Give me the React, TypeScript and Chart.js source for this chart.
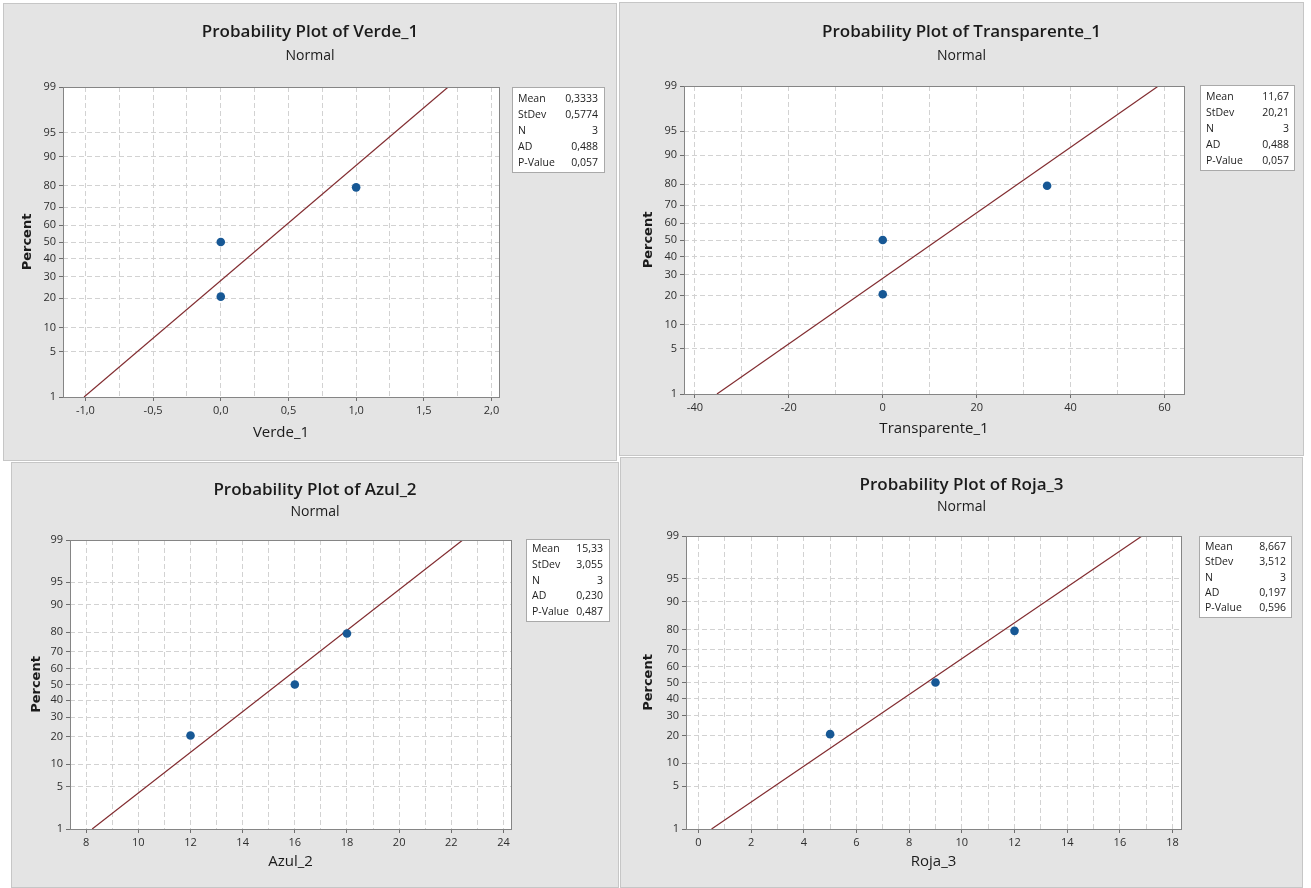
import React, { useEffect, useRef } from 'react';
import { Chart, registerables } from 'chart.js';

Chart.register(...registerables);

// ---------------- data ----------------
const plotTitles = [
  'Probability Plot of Verde_1',
  'Probability Plot of Transparente_1',
  'Probability Plot of Azul_2',
  'Probability Plot of Roja_3',
];
const subTitle = 'Normal';
const xAxisTitles = ['Verde_1', 'Transparente_1', 'Azul_2', 'Roja_3'];
const yAxisTitle = 'Percent';

const verdeValues = [0, 0, 1];
const transparenteValues = [0, 0, 35];
const azulValues = [12, 16, 18];
const rojaValues = [5, 9, 12];
const seriesValues = [verdeValues, transparenteValues, azulValues, rojaValues];

// plotting positions (percent) of the 3 ordered observations
const plotPercents = [20.6, 50, 79.4];

// percent tick labels on the probability axis
const percentTicks = [1, 5, 10, 20, 30, 40, 50, 60, 70, 80, 90, 95, 99];

// fitted line: x where it crosses 1 % and 99 %
const fitAt1Pct = [-1.01, -35.3, 8.23, 0.5];
const fitAt99Pct = [1.68, 58.7, 22.44, 16.84];

// x axis ranges and tick steps
const xMins = [-1.1655, -42.32, 7.379, -0.471];
const xMaxs = [2.0554, 64.15, 24.29, 18.32];
const xFirstTick = [-1, -40, 8, 0];
const xLastTick = [2, 60, 24, 18];
const xMajorStep = [0.5, 20, 2, 2];
const xMinorStep = [0.25, 10, 1, 1];
const xDecimals = [1, 0, 0, 0];

// summary tables
const statLabels = ['Mean', 'StDev', 'N', 'AD', 'P-Value'];
const verdeStats = ['0,3333', '0,5774', '3', '0,488', '0,057'];
const transparenteStats = ['11,67', '20,21', '3', '0,488', '0,057'];
const azulStats = ['15,33', '3,055', '3', '0,230', '0,487'];
const rojaStats = ['8,667', '3,512', '3', '0,197', '0,596'];
const statValues = [verdeStats, transparenteStats, azulStats, rojaStats];

// ---------------- layout (page pixels) ----------------
type Geo = {
  left: number; top: number; w: number; h: number;
  plotL: number; plotR: number; plotT: number; plotB: number;
  titleY: number; subY: number; yTitleOff: number; xTitleOff: number;
  box: { l: number; t: number; r: number; b: number; rows: number[]; labelX: number; valueX: number };
};

const panels: Geo[] = [
  {
    left: 3, top: 3, w: 614, h: 458,
    plotL: 63, plotR: 499, plotT: 87, plotB: 397,
    titleY: 32, subY: 56, yTitleOff: 35, xTitleOff: 35.5,
    box: { l: 512, t: 87, r: 605, b: 173, rows: [99, 115, 131, 147, 163], labelX: 518, valueX: 598 },
  },
  {
    left: 619, top: 2, w: 685, h: 454,
    plotL: 684, plotR: 1184, plotT: 86, plotB: 394,
    titleY: 32, subY: 56, yTitleOff: 35.5, xTitleOff: 34.5,
    box: { l: 1200, t: 85, r: 1295, b: 171, rows: [97, 113, 129, 145, 161], labelX: 1206, valueX: 1289 },
  },
  {
    left: 11, top: 462, w: 608, h: 426,
    plotL: 70, plotR: 511, plotT: 540, plotB: 829,
    titleY: 490, subY: 512, yTitleOff: 33.5, xTitleOff: 33,
    box: { l: 526, t: 539, r: 610, b: 622, rows: [549, 565, 581, 596.5, 612], labelX: 532, valueX: 603 },
  },
  {
    left: 620, top: 457, w: 683, h: 431,
    plotL: 686, plotR: 1181, plotT: 536, plotB: 829,
    titleY: 485, subY: 507, yTitleOff: 37.5, xTitleOff: 33,
    box: { l: 1199, t: 536, r: 1292, b: 618, rows: [547, 562.5, 578, 593, 608], labelX: 1205, valueX: 1286 },
  },
];

const X_SCALE_H = 50;
const FONT = '"Open Sans", "Noto Sans", sans-serif';

// inverse standard normal CDF (Acklam) – maps percent to the probability axis
function normInv(p: number): number {
  const a = [-3.969683028665376e1, 2.209460984245205e2, -2.759285104469687e2, 1.38357751867269e2, -3.066479806614716e1, 2.506628277459239];
  const b = [-5.447609879822406e1, 1.615858368580409e2, -1.556989798598866e2, 6.680131188771972e1, -1.328068155288572e1];
  const c = [-7.784894002430293e-3, -3.223964580411365e-1, -2.400758277161838, -2.549732539343734, 4.374664141464968, 2.938163982698783];
  const d = [7.784695709041462e-3, 3.224671290700398e-1, 2.445134137142996, 3.754408661907416];
  const pl = 0.02425;
  if (p < pl) {
    const q = Math.sqrt(-2 * Math.log(p));
    return (((((c[0] * q + c[1]) * q + c[2]) * q + c[3]) * q + c[4]) * q + c[5]) / ((((d[0] * q + d[1]) * q + d[2]) * q + d[3]) * q + 1);
  }
  if (p > 1 - pl) {
    const q = Math.sqrt(-2 * Math.log(1 - p));
    return -(((((c[0] * q + c[1]) * q + c[2]) * q + c[3]) * q + c[4]) * q + c[5]) / ((((d[0] * q + d[1]) * q + d[2]) * q + d[3]) * q + 1);
  }
  const q = p - 0.5;
  const r = q * q;
  return ((((((a[0] * r + a[1]) * r + a[2]) * r + a[3]) * r + a[4]) * r + a[5]) * q) / (((((b[0] * r + b[1]) * r + b[2]) * r + b[3]) * r + b[4]) * r + 1);
}
const zOf = (pct: number) => normInv(pct / 100);

function ProbPlot({ idx }: { idx: number }) {
  const ref = useRef<HTMLCanvasElement | null>(null);
  const g = panels[idx];

  useEffect(() => {
    const canvas = ref.current;
    if (!canvas) return;
    const ox = g.left;
    const oy = g.top;
    const yMin = zOf(percentTicks[0]);
    const yMax = zOf(percentTicks[percentTicks.length - 1]);
    const major = xMajorStep[idx];
    const minor = xMinorStep[idx];
    const isMajor = (v: number) => Math.abs(v / major - Math.round(v / major)) < 1e-6;

    const points = seriesValues[idx].map((v, i) => ({ x: v, y: zOf(plotPercents[i]) }));
    const fitLine = [
      { x: fitAt1Pct[idx], y: zOf(1) },
      { x: fitAt99Pct[idx], y: zOf(99) },
    ];

    const lhX = 15 * 1.2;
    const lhY = 13 * 1.2;

    const decor = {
      id: 'minitabDecor',
      beforeDraw(chart: any) {
        const { ctx, chartArea: a } = chart;
        ctx.save();
        ctx.fillStyle = '#ffffff';
        ctx.fillRect(a.left, a.top, a.right - a.left, a.bottom - a.top);
        ctx.restore();
      },
      afterDraw(chart: any) {
        const { ctx, chartArea: a } = chart;
        ctx.save();
        // frame (aligned with the grid-line pixel grid)
        const L = Math.round(a.left) + 0.5;
        const T = Math.round(a.top) + 0.5;
        const R = Math.round(a.right) + 0.5;
        const B = Math.round(a.bottom) + 0.5;
        ctx.strokeStyle = '#858585';
        ctx.lineWidth = 1;
        ctx.strokeRect(L, T, R - L, B - T);
        // titles
        ctx.fillStyle = '#1b1b1b';
        ctx.textAlign = 'center';
        ctx.textBaseline = 'middle';
        ctx.font = `600 17px ${FONT}`;
        ctx.fillText(plotTitles[idx], g.w / 2, g.titleY - oy);
        ctx.font = `500 14px ${FONT}`;
        ctx.fillText(subTitle, g.w / 2, g.subY - oy);
        // stats box
        const b = g.box;
        ctx.fillStyle = '#ffffff';
        ctx.fillRect(b.l - ox, b.t - oy, b.r - b.l, b.b - b.t);
        ctx.strokeStyle = '#a9a9a9';
        ctx.strokeRect(b.l - ox + 0.5, b.t - oy + 0.5, b.r - b.l - 1, b.b - b.t - 1);
        ctx.fillStyle = '#222222';
        ctx.font = `10.5px ${FONT}`;
        statLabels.forEach((lab, i) => {
          ctx.textAlign = 'left';
          ctx.fillText(lab, b.labelX - ox, b.rows[i] - oy);
          ctx.textAlign = 'right';
          ctx.fillText(statValues[idx][i], b.valueX - ox, b.rows[i] - oy);
        });
        ctx.restore();
      },
    };

    const chart = new Chart(canvas, {
      type: 'scatter',
      data: {
        datasets: [
          {
            data: points,
            backgroundColor: '#175895',
            borderColor: '#175895',
            borderWidth: 0,
            pointRadius: 4.3,
            showLine: false,
          },
          {
            data: fitLine,
            showLine: true,
            borderColor: '#822c30',
            borderWidth: 1.2,
            pointRadius: 0,
            fill: false,
          },
        ],
      },
      options: {
        animation: false,
        responsive: false,
        devicePixelRatio: 1,
        events: [],
        layout: {
          padding: {
            left: 0,
            top: g.plotT - oy,
            right: ox + g.w - g.plotR,
            bottom: oy + g.h - g.plotB - X_SCALE_H,
          },
        },
        plugins: {
          legend: { display: false },
          tooltip: { enabled: false },
          title: { display: false },
        },
        scales: {
          x: {
            type: 'linear',
            min: xMins[idx],
            max: xMaxs[idx],
            afterFit: (s: any) => { s.height = X_SCALE_H; },
            afterBuildTicks: (s: any) => {
              const t: any[] = [];
              const n = Math.round((xLastTick[idx] - xFirstTick[idx]) / minor);
              for (let i = 0; i <= n; i++) t.push({ value: xFirstTick[idx] + i * minor });
              s.ticks = t;
            },
            ticks: {
              autoSkip: false,
              maxRotation: 0,
              padding: 3,
              color: '#2e2e2e',
              font: { family: FONT, size: 11 },
              callback: (v: any) => {
                const n = Number(v);
                if (!isMajor(n)) return '';
                return xDecimals[idx] ? n.toFixed(xDecimals[idx]).replace('.', ',') : String(Math.round(n));
              },
            },
            grid: {
              color: '#d2d2d2',
              lineWidth: 1,
              tickLength: 4,
              tickColor: (c: any) => (c.tick && isMajor(c.tick.value) ? '#6e6e6e' : 'rgba(0,0,0,0)'),
            },
            border: { display: false, dash: [5, 3] },
            title: {
              display: true,
              text: xAxisTitles[idx],
              color: '#1b1b1b',
              font: { family: FONT, size: 15 },
              padding: { top: 0, bottom: X_SCALE_H - lhX / 2 - g.xTitleOff },
            },
          },
          y: {
            type: 'linear',
            min: yMin,
            max: yMax,
            afterFit: (s: any) => { s.width = g.plotL - ox; },
            afterBuildTicks: (s: any) => {
              s.ticks = percentTicks.map((p) => ({ value: zOf(p) }));
            },
            ticks: {
              autoSkip: false,
              padding: 3,
              color: '#2e2e2e',
              font: { family: FONT, size: 11 },
              callback: (_v: any, i: number) => String(percentTicks[i]),
            },
            grid: {
              color: '#d2d2d2',
              lineWidth: 1,
              tickLength: 4,
              tickColor: '#6e6e6e',
            },
            border: { display: false, dash: [5, 3] },
            title: {
              display: true,
              text: yAxisTitle,
              color: '#1b1b1b',
              font: { family: '"DejaVu Sans", sans-serif', size: 13, weight: 'bold' },
              padding: { top: g.plotL - ox - g.yTitleOff - lhY / 2, bottom: 0 },
            },
          },
        },
      },
      plugins: [decor],
    } as any);

    return () => chart.destroy();
  }, [idx]);

  return (
    <>
      <div
        style={{
          position: 'absolute',
          left: g.left,
          top: g.top,
          width: g.w,
          height: g.h,
          boxSizing: 'border-box',
          background: '#e4e4e4',
          border: '1px solid #c6c6c6',
        }}
      />
      <canvas
        ref={ref}
        width={g.w}
        height={g.h}
        style={{ position: 'absolute', left: g.left, top: g.top, width: g.w, height: g.h }}
      />
    </>
  );
}

export default function App() {
  return (
    <div
      style={{
        position: 'absolute',
        left: 0,
        top: 0,
        width: 1311,
        height: 888,
        background: '#ffffff',
        overflow: 'hidden',
      }}
    >
      {[0, 1, 2, 3].map((i) => (
        <ProbPlot key={i} idx={i} />
      ))}
    </div>
  );
}
